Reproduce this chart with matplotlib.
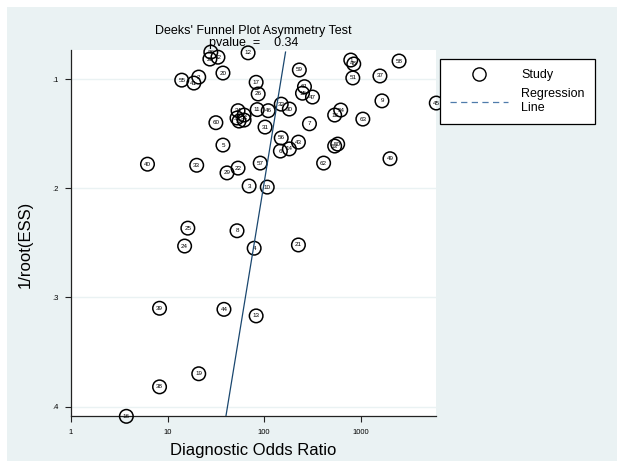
import numpy as np
import matplotlib.pyplot as plt
from matplotlib.lines import Line2D
from matplotlib.patches import Rectangle

plt.rcParams['font.family'] = ['Liberation Sans', 'DejaVu Sans']

# Study ids, diagnostic odds ratio and 1/root(ESS)
study = list(range(1, 64))
dor = [787, 21.0, 69.8, 78.7, 37.4, 147, 294, 52.3, 1655, 107.5,
       84.6, 68.1, 82.5, 182, 249, 3.74, 82.5, 536, 21.0, 37.4,
       226, 53.6, 61.9, 15.0, 16.2, 86.6, 61.9, 27.4, 41.2, 182,
       102, 150, 20.0, 53.6, 52.3, 28.0, 1577, 8.25, 8.25, 6.19,
       18.7, 33.2, 226, 38.3, 6040, 110, 316, 845, 2004, 576,
       826, 54.9, 536, 619, 14.0, 150, 90.9, 2488, 231, 31.6,
       261, 412, 1049]
inv_root_ess = [0.0826, 0.0982, 0.198, 0.255, 0.1605, 0.166, 0.141, 0.239, 0.120, 0.199,
                0.128, 0.076, 0.317, 0.164, 0.113, 0.409, 0.103, 0.133, 0.370, 0.0945,
                0.252, 0.1816, 0.133, 0.253, 0.2366, 0.1137, 0.1376, 0.0817, 0.186, 0.1275,
                0.144, 0.123, 0.179, 0.129, 0.1357, 0.0753, 0.0972, 0.382, 0.310, 0.178,
                0.1037, 0.080, 0.1578, 0.311, 0.122, 0.129, 0.1165, 0.0862, 0.173, 0.1596,
                0.099, 0.1385, 0.1614, 0.1284, 0.101, 0.154, 0.177, 0.0835, 0.0917, 0.140,
                0.107, 0.177, 0.1367]

# regression line: log10(DOR) = intercept + slope * 1/root(ESS)
reg_intercept = 2.36
reg_slope = -1.85
p_value = 0.34

x_ticks = [1, 10, 100, 1000]
y_ticks = [0.1, 0.2, 0.3, 0.4]
y_tick_labels = ['.1', '.2', '.3', '.4']

W, H = 624, 468
fig = plt.figure(figsize=(W / 100, H / 100), dpi=100)
fig.patch.set_facecolor('white')
bg = '#EAF2F3'
fig.patches.append(Rectangle((7 / W, 7 / H), 610 / W, 454 / H, transform=fig.transFigure,
                             facecolor=bg, edgecolor='none', zorder=-10))

ax = fig.add_axes([71 / W, 1 - 416 / H, (436 - 71) / W, (416 - 50) / H])
ax.set_facecolor('white')
ax.set_xscale('log')
ax.set_xlim(1, 6000)
ax.set_ylim(0.4087, 0.0734)

for s in ['top', 'right']:
    ax.spines[s].set_visible(False)
for s in ['left', 'bottom']:
    ax.spines[s].set_color('#222222')
    ax.spines[s].set_linewidth(0.9)

ax.set_xticks(x_ticks)
ax.set_xticklabels([str(t) for t in x_ticks])
ax.xaxis.set_minor_locator(plt.NullLocator())
ax.set_yticks(y_ticks)
ax.set_yticklabels(y_tick_labels)
ax.tick_params(axis='both', labelsize=5.5, length=4, width=0.8, color='#222222', pad=5)
ax.grid(axis='y', color=bg, linewidth=1.0)
ax.set_axisbelow(True)

ax.scatter(dor, inv_root_ess, s=95, facecolors='none', edgecolors='black',
           linewidths=1.1, clip_on=False, zorder=3)
for i, x, y in zip(study, dor, inv_root_ess):
    ax.text(x, y, str(i), fontsize=4.5, ha='center', va='center', zorder=4, clip_on=False)

yy = np.array([min(inv_root_ess), max(inv_root_ess)])
ax.plot(10 ** (reg_intercept + reg_slope * yy), yy, color='#1a476f', linewidth=0.9, zorder=5)

ax.set_xlabel('Diagnostic Odds Ratio', fontsize=12)
ax.set_ylabel('1/root(ESS)', fontsize=12)
ax.xaxis.set_label_coords(0.5, -0.075)
ax.yaxis.set_label_coords(-0.105, 0.47)

cx = (71 + 436) / 2 / W
fig.text(cx, 1 - 31 / H, "Deeks' Funnel Plot Asymmetry Test", fontsize=9, ha='center', va='center')
fig.text(cx, 1 - 43 / H, 'pvalue  =    %.2f' % p_value, fontsize=9, ha='center', va='center')

handles = [Line2D([], [], linestyle='none', marker='o', markersize=9.5, markerfacecolor='none',
                  markeredgecolor='black', markeredgewidth=1.0),
           Line2D([], [], color='#4f7bab', linewidth=0.9, dashes=(5, 3.5))]
leg = fig.legend(handles, ['Study', 'Regression\nLine'], loc='upper left',
                 bbox_to_anchor=(440 / W, 1 - 59 / H), fontsize=9, frameon=True,
                 fancybox=False, framealpha=1, edgecolor='black', handlelength=4.6,
                 handletextpad=1.1, borderpad=0.8, labelspacing=0.6, borderaxespad=0)
leg.get_frame().set_linewidth(0.9)

fig.savefig('out.png', dpi=100)
